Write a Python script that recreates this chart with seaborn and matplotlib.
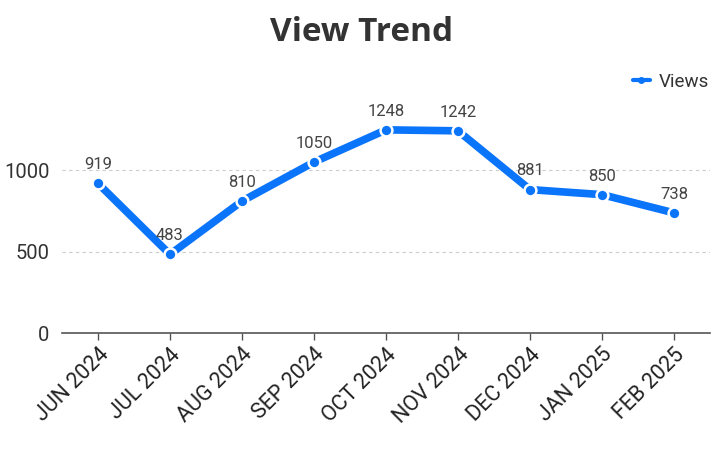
import matplotlib
matplotlib.use("Agg")
import matplotlib.pyplot as plt
import seaborn as sns
import pandas as pd

months = ["JUN 2024", "JUL 2024", "AUG 2024", "SEP 2024", "OCT 2024",
          "NOV 2024", "DEC 2024", "JAN 2025", "FEB 2025"]
views = [919, 483, 810, 1050, 1248, 1242, 881, 850, 738]
yticks = [0, 500, 1000]

sns.set_theme(style="white")
plt.rcParams['font.family'] = ['Roboto', 'DejaVu Sans']

df = pd.DataFrame({"month": months, "views": views, "x": range(len(months))})
color = "#0a74fa"

fig = plt.figure(figsize=(7.24, 4.59), dpi=100)
ax = fig.add_axes([0.0856, 0.2745, 0.8951, 0.4965])
sns.lineplot(data=df, x="x", y="views", ax=ax, color=color, linewidth=5.5,
             marker="o", markersize=8.5, markerfacecolor=color,
             markeredgecolor="white", markeredgewidth=1.8, label="Views",
             solid_capstyle="round")

for xi, v in zip(df["x"], views):
    ax.annotate(str(v), (xi, v), xytext=(0, 8), textcoords="offset points",
                ha="center", va="bottom", fontsize=12, color="#444444")

ax.set_xlim(-0.5, 8.5)
ax.set_ylim(0, 1400)
ax.set_yticks(yticks)
ax.set_yticklabels([str(t) for t in yticks], fontsize=14.5, color="#333333")
ax.set_xticks(list(df["x"]))
ax.set_xticklabels(months, rotation=45, ha="right", rotation_mode="anchor",
                   fontsize=15.5, color="#222222")
ax.tick_params(axis="x", length=5, width=1, color="#555555", pad=3, bottom=True)
ax.tick_params(axis="y", length=0, pad=9)
ax.set_xlabel("")
ax.set_ylabel("")
for s in ["top", "right", "left"]:
    ax.spines[s].set_visible(False)
ax.spines["bottom"].set_color("#555555")
ax.spines["bottom"].set_linewidth(1.2)
ax.grid(axis="y", linestyle=(0, (3, 3)), color="#cccccc", linewidth=0.8)
ax.grid(axis="x", visible=False)
for line in ax.get_ygridlines():
    if line.get_ydata()[0] == 0:
        line.set_visible(False)

leg = ax.legend(loc="upper right", bbox_to_anchor=(1.025, 1.215), frameon=False,
                fontsize=13.5, handlelength=0.9, handletextpad=0.5, numpoints=1)
for h in leg.legend_handles:
    h.set_linewidth(3)
    h.set_markersize(5)
    h.set_markeredgewidth(0)
for t in leg.get_texts():
    t.set_color("#333333")

fig.text(0.5, 0.93, "View Trend", ha="center", va="center", fontsize=24,
         fontweight="bold", color="#333333", family=["Open Sans", "DejaVu Sans"])

fig.savefig("out.png", dpi=100)
